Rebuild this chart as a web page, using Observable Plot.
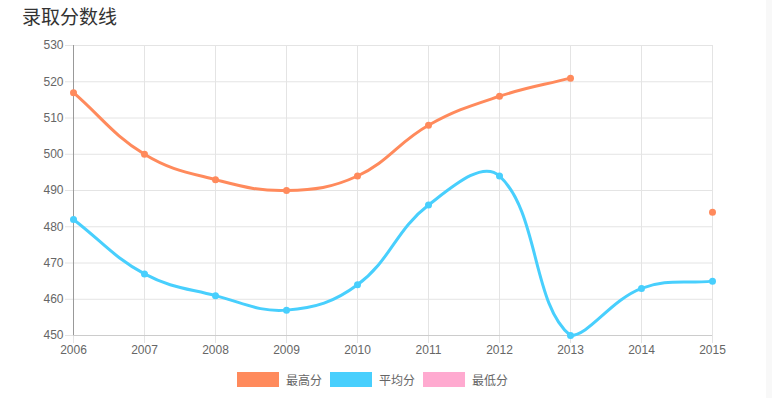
<!DOCTYPE html>
<html>
<head>
<meta charset="utf-8">
<script src="https://cdn.jsdelivr.net/npm/d3@7"></script>
<script src="https://cdn.jsdelivr.net/npm/@observablehq/plot@0.6"></script>
<style>
  html, body { margin: 0; padding: 0; background: #fff; }
  body { width: 772px; height: 398px; position: relative; overflow: hidden;
         font-family: "Liberation Sans", Arial, "Noto Sans CJK SC", sans-serif; }
  #title { position: absolute; left: 22px; top: 2px; font-size: 19px; color: #333;
           font-family: "Noto Sans CJK SC", sans-serif; }
  #chart { position: absolute; left: 0; top: 0; }
  #legend { position: absolute; left: 237px; top: 371px; display: flex; align-items: center;
            font-size: 12px; color: #666; font-family: "Noto Sans CJK SC", sans-serif; }
  .item { display: flex; align-items: center; margin-right: 8px; }
  .sw { width: 40px; height: 13px; margin-right: 7px; border: 1px solid; }
  #strip { position: absolute; left: 766px; top: 0; width: 6px; height: 398px; background: #f8f8f8; }
</style>
</head>
<body>
<div id="chart"></div>
<div id="title">录取分数线</div>
<div id="legend"></div>
<div id="strip"></div>
<script>
const years = [2006, 2007, 2008, 2009, 2010, 2011, 2012, 2013, 2014, 2015];
const seriesNames = ["最高分", "平均分", "最低分"];
const seriesColors = ["#ff8a5c", "#48cffd", "#ffaad0"];
const maxScores = [517, 500, 493, 490, 494, 508, 516, 521, null, 484];
const avgScores = [482, 467, 461, 457, 464, 486, 494, 450, 463, 465];
const minScores = [null, null, null, null, null, null, null, null, null, null];
const yTicks = [450, 460, 470, 480, 490, 500, 510, 520, 530];

const W = 772, H = 398, mTop = 45, mBottom = 63, mLeft = 73, mRight = 60;

const allSeries = [maxScores, avgScores, minScores];
const data = [];
allSeries.forEach((vals, s) => {
  years.forEach((y, i) => data.push({year: y, value: vals[i], series: seriesNames[s]}));
});

// Chart.js-like bezier spline (tension 0.4, control points capped to chart area)
function chartCurve(context) {
  let pts;
  const top = mTop, bottom = H - mBottom;
  return {
    areaStart() {}, areaEnd() {},
    lineStart() { pts = []; },
    point(x, y) { pts.push([+x, +y]); },
    lineEnd() {
      const n = pts.length;
      if (!n) return;
      const t = 0.4;
      const cp = pts.map((p, i) => {
        const prev = pts[Math.max(0, i - 1)], next = pts[Math.min(n - 1, i + 1)];
        const d01 = Math.hypot(p[0] - prev[0], p[1] - prev[1]);
        const d12 = Math.hypot(next[0] - p[0], next[1] - p[1]);
        let s01 = d01 / (d01 + d12), s12 = d12 / (d01 + d12);
        if (isNaN(s01)) s01 = 0;
        if (isNaN(s12)) s12 = 0;
        const dx = next[0] - prev[0], dy = next[1] - prev[1];
        const cl = v => Math.max(top, Math.min(bottom, v));
        return {px: p[0] - t * s01 * dx, py: cl(p[1] - t * s01 * dy),
                nx: p[0] + t * s12 * dx, ny: cl(p[1] + t * s12 * dy)};
      });
      context.moveTo(pts[0][0], pts[0][1]);
      if (n === 1) { context.lineTo(pts[0][0], pts[0][1]); return; }
      for (let i = 1; i < n; i++) {
        context.bezierCurveTo(cp[i - 1].nx, cp[i - 1].ny, cp[i].px, cp[i].py, pts[i][0], pts[i][1]);
      }
    }
  };
}

const chart = Plot.plot({
  width: W, height: H,
  marginTop: mTop, marginBottom: mBottom, marginLeft: mLeft, marginRight: mRight,
  style: {fontFamily: '"Liberation Sans", Arial, sans-serif', fontSize: "12px", color: "#666", background: "transparent"},
  x: {type: "linear", domain: [years[0], years[years.length - 1]], ticks: years, tickFormat: d => String(d), label: null},
  y: {domain: [yTicks[0], yTicks[yTicks.length - 1]], ticks: yTicks, label: null},
  color: {domain: seriesNames, range: seriesColors},
  marks: [
    Plot.gridX(years, {stroke: "#e4e4e4", strokeOpacity: 1, y1: yTicks[0], y2: yTicks[yTicks.length - 1]}),
    Plot.gridY(yTicks, {stroke: "#e4e4e4", strokeOpacity: 1}),
    Plot.axisX({ticks: years, tickFormat: d => String(d), tickSize: 8, stroke: "#e4e4e4", tickPadding: 2, fill: "#666", fontSize: 12, label: null}),
    Plot.axisY({ticks: yTicks, tickSize: 8, stroke: "#e4e4e4", tickPadding: 2, fill: "#666", fontSize: 12, label: null}),
    Plot.ruleX([years[0]], {stroke: "#999", y1: yTicks[0], y2: yTicks[yTicks.length - 1]}),
    Plot.ruleY([yTicks[0]], {stroke: "#ccc"}),
    Plot.line(data, {x: "year", y: "value", z: "series", stroke: "series", strokeWidth: 3, curve: chartCurve}),
    Plot.dot(data.filter(d => d.value != null), {x: "year", y: "value", fill: "series", r: 3.5, stroke: "none"})
  ]
});
document.getElementById("chart").appendChild(chart);

const legend = document.getElementById("legend");
seriesNames.forEach((name, i) => {
  const item = document.createElement("div");
  item.className = "item";
  const sw = document.createElement("div");
  sw.className = "sw";
  sw.style.background = seriesColors[i];
  sw.style.borderColor = seriesColors[i];
  const lab = document.createElement("span");
  lab.textContent = name;
  item.appendChild(sw);
  item.appendChild(lab);
  legend.appendChild(item);
});
</script>
</body>
</html>
